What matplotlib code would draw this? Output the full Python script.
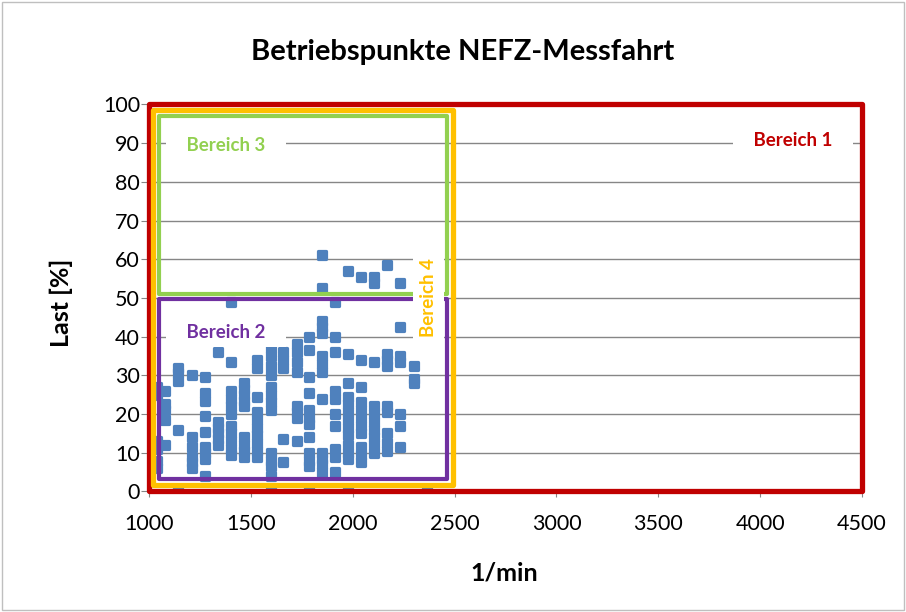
import matplotlib
matplotlib.use("Agg")
import matplotlib.pyplot as plt
from matplotlib.markers import MarkerStyle
from matplotlib.patches import Rectangle

plt.rcParams["font.family"] = ["Lato", "DejaVu Sans"]

# measured operating points, one column per engine speed (1/min) -> load values (%)
drehzahl = [1040, 1080, 1140, 1210, 1275, 1340, 1400, 1465, 1530, 1600, 1660,
            1725, 1785, 1850, 1915, 1975, 2040, 2105, 2170, 2230, 2300, 2365]
last = [
    [27, 25, 13, 11, 8, 6],
    [26, 22.5, 21, 18.5, 12],
    [32, 30.5, 28.5, 16, 0],
    [30, 14, 11.5, 9, 7.5, 6],
    [29.5, 25.5, 23.5, 19.5, 15.5, 11.5, 10, 8.5, 4],
    [36, 18, 16.5, 15, 13.5, 12],
    [49, 33.5, 26, 24, 22, 20, 17, 15, 13, 11, 9.5],
    [28, 26.5, 25, 23.5, 22, 14, 12, 10.5, 9],
    [34, 32, 24.5, 20.5, 18.5, 16.5, 14.5, 12.5, 10.5, 9],
    [37, 35, 32.5, 30, 27, 25, 23, 21, 10, 8, 6.5, 4, 0],
    [36, 34, 32, 13.5, 7.5],
    [38, 36, 33.5, 31, 22, 20.5, 19, 13],
    [40, 36.5, 29.5, 25.5, 21, 19, 17.5, 14, 10, 8, 6.5, 0],
    [61, 52.5, 44, 42.5, 41, 35, 33, 31, 24, 10, 8.5, 7, 5],
    [49, 40, 36, 26, 24, 20, 17, 11, 9, 5],
    [57, 35.5, 28, 24.5, 22.5, 20.5, 18.5, 16.5, 14.5, 12, 10, 8.5, 0],
    [55.5, 34, 27, 23, 21, 19, 17, 15, 11.5, 9.5, 7.5],
    [55.5, 54, 33.5, 22, 20, 18, 16, 14, 12, 10],
    [58.5, 35.5, 34, 32.5, 22, 20.5, 15, 12.5, 10.5],
    [54, 42.5, 35, 33.5, 20, 17, 11.5],
    [32.5, 29, 28],
    [0],
]

# operating regions (drawn boxes): speed range and load range
bereich_namen = ["Bereich 1", "Bereich 4", "Bereich 3", "Bereich 2"]
bereich_n = [(1000, 4500), (1021, 2490), (1049, 2461), (1049, 2461)]
bereich_last = [(0, 100), (1.7, 98.5), (51, 97), (3.2, 49.7)]
bereich_farben = ["#C00000", "#FFC000", "#92D050", "#7030A0"]

x = [n for n, col in zip(drehzahl, last) for _ in col]
y = [v for col in last for v in col]

fig = plt.figure(figsize=(9.06, 6.12), dpi=100)
ax = fig.add_axes([0.1645, 0.1969, 0.787, 0.6324])

ax.plot(x, y, ls="", marker=MarkerStyle("s", joinstyle="round"), ms=5.5, mew=2.3,
        color="#4F81BD", zorder=3)

lws = [3.8, 3.8, 3.0, 3.0]
for (n0, n1), (l0, l1), c, lw in zip(bereich_n, bereich_last, bereich_farben, lws):
    ax.add_patch(Rectangle((n0, l0), n1 - n0, l1 - l0, fill=False, ec=c, lw=lw,
                           joinstyle="round", zorder=4, clip_on=False))

box = dict(facecolor="white", edgecolor="none", pad=5)
kw = dict(fontsize=13.5, fontweight="bold", ha="center", va="center", zorder=5, bbox=box)
ax.text(4161, 90.8, "   Bereich 1   ", color=bereich_farben[0], **kw)
ax.text(1378, 89.3, "   Bereich 3   ", color=bereich_farben[2], **kw)
ax.text(1378, 41.2, "   Bereich 2   ", color=bereich_farben[3], **kw)
ax.text(2370, 50, "Bereich 4", color=bereich_farben[1], rotation=90, **kw)

ax.set_xlim(1000, 4500)
ax.set_ylim(0, 100)
ax.set_xticks(range(1000, 4501, 500))
ax.set_yticks(range(0, 101, 10))
ax.yaxis.grid(True, color="#868686", lw=1)
ax.set_axisbelow(True)
for s in ax.spines.values():
    s.set_visible(False)
ax.tick_params(labelsize=15.5, color="#868686")
ax.tick_params(axis="x", length=4.5, pad=12)
ax.tick_params(axis="y", length=5.5, pad=1)

fig.text(0.511, 0.915, "Betriebspunkte NEFZ-Messfahrt", fontsize=21, fontweight="bold",
         ha="center", va="center")
fig.text(0.068, 0.505, "Last [%]", fontsize=18, fontweight="bold", rotation=90,
         ha="center", va="center")
fig.text(0.557, 0.064, "1/min", fontsize=18, fontweight="bold", ha="center", va="center")

fig.add_artist(Rectangle((0.002, 0.003), 0.996, 0.994, transform=fig.transFigure,
                         fill=False, ec="#BFBFBF", lw=1))

fig.savefig("out.png", dpi=100)
